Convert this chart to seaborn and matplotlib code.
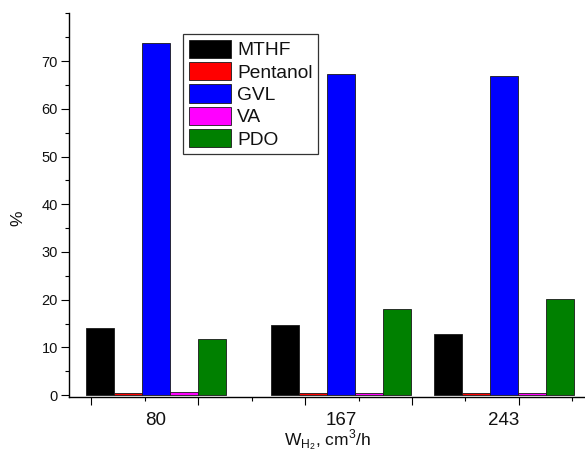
import matplotlib
matplotlib.use("Agg")
import matplotlib.pyplot as plt
import seaborn as sns
import pandas as pd
from matplotlib.ticker import MultipleLocator, FixedLocator

flows = [80, 167, 243]
products = ["MTHF", "Pentanol", "GVL", "VA", "PDO"]
mthf = [14.0, 14.7, 12.9]
pentanol = [0.4, 0.4, 0.4]
gvl = [73.9, 67.2, 66.8]
va = [0.6, 0.5, 0.5]
pdo = [11.8, 18.0, 20.1]
colors = ["#000000", "#FF0000", "#0000FF", "#FF00FF", "#008000"]

rows = []
for name, vals in zip(products, [mthf, pentanol, gvl, va, pdo]):
    for f, v in zip(flows, vals):
        rows.append({"flow": f, "product": name, "value": v})
df = pd.DataFrame(rows)

sns.set_theme(style="ticks")
plt.rcParams["font.family"] = ["Liberation Sans", "DejaVu Sans"]
plt.rcParams["mathtext.fontset"] = "custom"
plt.rcParams["mathtext.rm"] = "Liberation Sans"
plt.rcParams["text.color"] = "#111111"
plt.rcParams["xtick.labelcolor"] = "#111111"
plt.rcParams["ytick.labelcolor"] = "#111111"
plt.rcParams["axes.labelcolor"] = "#111111"

fig = plt.figure(figsize=(5.85, 4.58), dpi=100)
ax = fig.add_axes([69 / 585, (458 - 397) / 458, 1 - 69 / 585, (397 - 13.4) / 458])

sns.barplot(data=df, x="flow", y="value", hue="product", hue_order=products,
            palette=colors, native_scale=True, width=0.862, dodge=True,
            edgecolor="#1a1a1a", linewidth=0.6, saturation=1, ax=ax, legend=True)

ax.set_xlim(39.5, 281)
ax.set_ylim(-0.4, 80)
sns.despine(ax=ax)
for s in ["left", "bottom"]:
    ax.spines[s].set_linewidth(1.0)
    ax.spines[s].set_color("black")

ax.yaxis.set_major_locator(MultipleLocator(10))
ax.yaxis.set_minor_locator(MultipleLocator(5))
ax.set_yticks(range(0, 80, 10))
ax.tick_params(axis="y", which="major", length=6, width=0.8, labelsize=10.5, color="black", pad=2)
ax.tick_params(axis="y", which="minor", length=3, width=0.8, color="black", left=True)

ax.xaxis.set_major_locator(FixedLocator([50, 100, 150, 200, 250]))
ax.xaxis.set_minor_locator(FixedLocator([75, 125, 175, 225, 275]))
ax.tick_params(axis="x", which="major", length=5.5, width=0.8, color="black", labelbottom=False)
ax.tick_params(axis="x", which="minor", length=3, width=0.8, color="black", bottom=True)

sec = ax.secondary_xaxis("bottom")
sec.set_xticks(flows, labels=[str(f) for f in flows])
sec.tick_params(axis="x", length=0, labelsize=13.5, pad=10.5)
sec.spines["bottom"].set_visible(False)

ax.set_xlabel("")
sec.set_xlabel(r"W$_{\mathregular{H_2}}$, cm$^{\mathregular{3}}$/h", fontsize=12.5, labelpad=-1)
ax.set_ylabel("%", fontsize=12.5)
ax.yaxis.set_label_coords(-0.085, 0.467)

handles, labels = ax.get_legend_handles_labels()
leg = ax.legend(handles, labels, loc="upper left", bbox_to_anchor=(0.221, 0.946),
                borderaxespad=0, fontsize=13.8, frameon=True, fancybox=False,
                handlelength=2.2, handleheight=1.08, labelspacing=0.14,
                handletextpad=0.32, borderpad=0.3, title=None)
leg.get_frame().set_edgecolor("black")
leg.get_frame().set_linewidth(0.9)

fig.savefig("out.png", dpi=100)
